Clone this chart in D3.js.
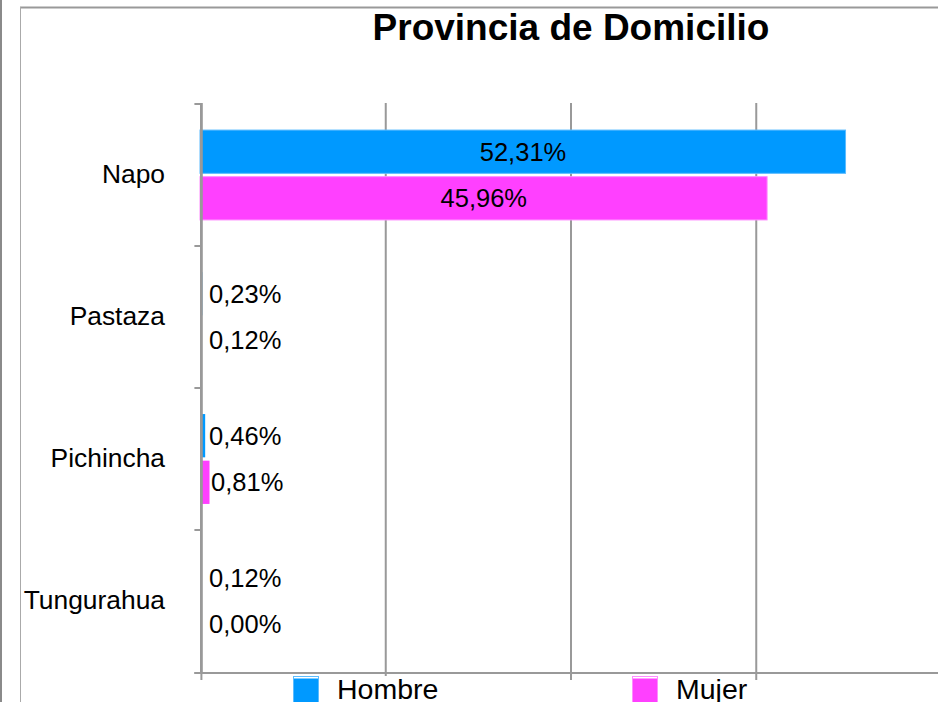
<!DOCTYPE html>
<html>
<head>
<meta charset="utf-8">
<script src="https://cdn.jsdelivr.net/npm/d3@7"></script>
<style>
  body { margin: 0; background: #fff; }
  svg { display: block; font-family: "Liberation Sans", Arial, sans-serif; }
</style>
</head>
<body>
<div id="chart"></div>
<script>
// data
var categories = ["Napo", "Pastaza", "Pichincha", "Tungurahua"];
var series = ["Hombre", "Mujer"];
var hombre = [52.31, 0.23, 0.46, 0.12];
var mujer = [45.96, 0.12, 0.81, 0.00];
var xTicks = [0, 15, 30, 45, 60];

var fills = ["#0099ff", "#ff40ff"];
var edges = ["#5cbcff", "#ff8cff"];

var W = 938, H = 702;
var svg = d3.select("#chart").append("svg")
    .attr("width", W)
    .attr("height", H);

// page frame
svg.append("rect").attr("x", 0).attr("y", 0).attr("width", 2).attr("height", H).attr("fill", "#8a8a8a");
svg.append("line").attr("x1", 20).attr("x2", W).attr("y1", 7.5).attr("y2", 7.5)
    .attr("stroke", "#999").attr("stroke-width", 2);
svg.append("line").attr("x1", 20.5).attr("x2", 20.5).attr("y1", 7).attr("y2", H)
    .attr("stroke", "#aaa").attr("stroke-width", 1);

// title
svg.append("text")
    .attr("x", 571).attr("y", 40)
    .attr("text-anchor", "middle")
    .style("font-size", "37px")
    .style("font-weight", "bold")
    .text("Provincia de Domicilio");

// scales
var plotTop = 104, plotBottom = 673;
var x = d3.scaleLinear().domain([0, 60]).range([200, 941]);
var y = d3.scaleBand().domain(categories).range([plotTop, plotBottom - 1])
    .paddingInner(0.36).paddingOuter(0.18);
var ySub = d3.scaleBand().domain(series).range([0, y.bandwidth()]).paddingInner(0.05);

// vertical gridlines
svg.append("g")
    .attr("transform", "translate(0," + plotBottom + ")")
    .call(d3.axisBottom(x).tickValues(xTicks.slice(1)).tickSize(-(plotBottom - plotTop + 1)).tickFormat(""))
    .call(function (g) { g.select(".domain").remove(); })
    .selectAll("line").attr("stroke", "#999").attr("stroke-width", 2);

// bars
var rows = categories.map(function (c, i) {
  return { cat: c, values: [hombre[i], mujer[i]] };
});

var groups = svg.selectAll(".grp")
  .data(rows)
  .enter().append("g")
    .attr("class", "grp")
    .attr("transform", function (d) { return "translate(0," + y(d.cat) + ")"; });

groups.selectAll("rect")
  .data(function (d) { return d.values.map(function (v, j) { return { s: series[j], v: v, j: j }; }); })
  .enter().append("rect")
    .attr("x", x(0))
    .attr("y", function (d) { return ySub(d.s) + 0.5; })
    .attr("width", function (d) { return Math.max(0, x(d.v) - x(0) - 0.5); })
    .attr("height", ySub.bandwidth() - 1)
    .attr("fill", function (d) { return fills[d.j]; })
    .attr("stroke", function (d) { return d.v >= 1 ? edges[d.j] : "none"; })
    .attr("stroke-width", 1);

groups.selectAll("text.val")
  .data(function (d) { return d.values.map(function (v, j) { return { s: series[j], v: v, j: j }; }); })
  .enter().append("text")
    .attr("class", "val")
    .attr("x", function (d) {
      return d.v >= 10 ? (x(0) + x(d.v)) / 2 : Math.max(x(d.v) + 1, x(0) + 9);
    })
    .attr("y", function (d) { return ySub(d.s) + ySub.bandwidth() / 2; })
    .attr("dy", "0.35em")
    .attr("text-anchor", function (d) { return d.v >= 10 ? "middle" : "start"; })
    .style("font-size", "25.5px")
    .attr("fill", "#000")
    .text(function (d) { return d.v.toFixed(2).replace(".", ",") + "%"; });

// y axis: labels + boundary ticks
var yAxis = svg.append("g")
    .attr("transform", "translate(" + (x(0) + 1) + ",0)")
    .call(d3.axisLeft(y).tickSize(0).tickPadding(36));
yAxis.select(".domain").remove();
yAxis.selectAll("text").style("font-size", "26.4px").attr("fill", "#000")
    .style("font-family", "'Liberation Sans', Arial, sans-serif");

var axisX = x(0) + 1.4;
var bounds = categories.map(function (c) { return y(c) - y.step() * y.paddingOuter(); });
bounds.push(plotBottom);
svg.selectAll(".btick").data(bounds).enter().append("line")
    .attr("x1", axisX - 7).attr("x2", axisX)
    .attr("y1", function (d) { return d; }).attr("y2", function (d) { return d; })
    .attr("stroke", "#999").attr("stroke-width", 2);

svg.append("line")
    .attr("x1", axisX).attr("x2", axisX)
    .attr("y1", plotTop - 1).attr("y2", plotBottom)
    .attr("stroke", "#999").attr("stroke-width", 2.8);

// x axis (ticks hang below)
svg.append("g")
    .attr("transform", "translate(0," + plotBottom + ")")
    .call(d3.axisBottom(x).tickValues(xTicks.slice(1)).tickSize(7).tickFormat(""))
    .call(function (g) { g.select(".domain").remove(); })
    .selectAll("line").attr("stroke", "#999").attr("stroke-width", 2);
svg.append("line")
    .attr("x1", axisX).attr("x2", axisX)
    .attr("y1", plotBottom).attr("y2", plotBottom + 7)
    .attr("stroke", "#999").attr("stroke-width", 2);

svg.append("line")
    .attr("x1", axisX - 7).attr("x2", W)
    .attr("y1", plotBottom).attr("y2", plotBottom)
    .attr("stroke", "#999").attr("stroke-width", 2);

// legend
var legendX = [293, 632];
var leg = svg.selectAll(".leg")
  .data(series)
  .enter().append("g")
    .attr("class", "leg")
    .attr("transform", function (d, i) { return "translate(" + legendX[i] + ",676)"; });

leg.append("rect").attr("class", "bg")
    .attr("x", -2).attr("y", 0).attr("height", 30).attr("fill", "#fff");
leg.append("rect")
    .attr("x", 0.5).attr("y", 0.5).attr("width", 25).attr("height", 30)
    .attr("fill", "#fff")
    .attr("stroke", function (d, i) { return edges[i]; });
leg.append("rect")
    .attr("x", 1).attr("y", 2.5).attr("width", 24).attr("height", 30)
    .attr("fill", function (d, i) { return fills[i]; });
leg.append("text")
    .attr("x", 44).attr("y", 23)
    .style("font-size", "28.5px")
    .attr("fill", "#000")
    .text(function (d) { return d; });
leg.each(function () {
  var g = d3.select(this);
  var bb = g.select("text").node().getBBox();
  g.select(".bg").attr("width", bb.x + bb.width + 4);
});
</script>
</body>
</html>
